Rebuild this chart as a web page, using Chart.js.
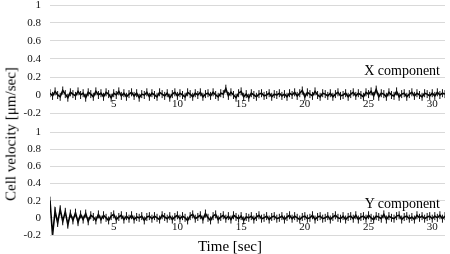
<!DOCTYPE html>
<html>
<head>
<meta charset="utf-8">
<script src="https://cdn.jsdelivr.net/npm/chart.js@4/dist/chart.umd.min.js"></script>
<style>
  html,body{margin:0;padding:0;background:#fff;width:450px;height:254px;overflow:hidden;position:relative;font-family:"Liberation Serif","Times New Roman",serif;color:#000;}
  .cv{position:absolute;left:0;width:450px;}
  #wrapTop{top:0;height:122px;}
  #wrapBot{top:122px;height:132px;}
  .lbl{position:absolute;font-size:14px;white-space:nowrap;line-height:1;}
  #ytitle{left:11px;top:134px;transform:translate(-50%,-50%) rotate(-90deg);font-size:15px;}
  #xtitle{left:230px;top:246px;transform:translate(-50%,-50%);font-size:15px;}
  #xcomp{right:10px;top:64px;}
  #ycomp{right:10px;top:197px;}
</style>
</head>
<body>
<div class="cv" id="wrapTop"><canvas id="cTop"></canvas></div>
<div class="cv" id="wrapBot"><canvas id="cBot"></canvas></div>
<div class="lbl" id="ytitle">Cell velocity [μm/sec]</div>
<div class="lbl" id="xtitle">Time [sec]</div>
<div class="lbl" id="xcomp">X component</div>
<div class="lbl" id="ycomp">Y component</div>
<script>
// Sampling interval of the recording (sec)
const TIME_STEP = 0.2;
const X_TICKS = [5, 10, 15, 20, 25, 30];
const Y_TICKS = [-0.2, 0, 0.2, 0.4, 0.6, 0.8, 1];
const PANEL_LABELS = ["X component", "Y component"];

// X component of cell velocity (µm/sec), t = 0 ... 31 sec
const xComponent = [
  0.02,-0.01,0.04,0.00,-0.02,0.05,0.01,-0.03,0.03,0.01,
  -0.01,0.04,0.00,0.02,-0.03,0.03,0.01,-0.02,0.04,0.00,
  0.02,-0.02,0.03,0.01,-0.03,0.02,0.00,0.04,-0.01,0.02,
  -0.02,0.01,0.03,-0.01,0.02,-0.03,0.01,0.00,0.03,-0.02,
  0.02,0.00,-0.02,0.03,0.01,-0.01,0.02,-0.03,0.01,0.03,
  -0.01,0.02,0.00,-0.02,0.03,0.01,-0.02,0.02,0.00,0.03,
  -0.02,0.01,0.02,-0.01,0.03,0.00,-0.02,0.02,0.01,0.07,
  -0.01,0.03,0.00,-0.03,0.02,0.04,-0.02,0.01,-0.03,0.02,
  0.00,-0.02,0.01,0.02,-0.01,0.00,0.02,-0.02,0.01,0.00,
  0.02,-0.01,0.01,-0.02,0.02,0.00,0.03,-0.01,0.02,0.05,
  -0.02,0.03,0.01,-0.01,0.04,0.00,-0.02,0.02,0.01,-0.01,
  0.02,-0.02,0.01,0.03,-0.01,0.00,0.02,-0.02,0.01,0.03,
  -0.01,0.02,0.00,-0.02,0.03,0.01,0.04,-0.01,0.06,-0.02,
  0.02,0.01,-0.02,0.03,0.00,-0.01,0.04,-0.02,0.01,0.02,
  -0.02,0.01,0.03,-0.01,0.02,0.00,-0.02,0.02,0.01,-0.01,
  0.02,-0.01,0.03,0.00,0.02,0.01
];

// Y component of cell velocity (µm/sec), t = 0 ... 31 sec
const yComponent = [
  0.20,-0.20,0.08,-0.06,0.10,-0.04,0.07,-0.08,0.05,-0.03,
  0.06,-0.05,0.04,-0.02,0.05,-0.04,0.03,0.01,-0.03,0.04,
  -0.02,0.03,0.00,-0.03,0.02,0.04,-0.02,0.01,0.03,-0.02,
  0.02,-0.01,0.03,-0.02,0.01,0.00,0.02,-0.03,0.01,0.02,
  -0.01,0.02,0.00,-0.02,0.03,0.01,-0.01,0.02,-0.02,0.01,
  0.03,-0.01,0.02,0.00,-0.03,0.02,0.04,-0.01,0.01,0.03,
  -0.02,0.05,0.00,-0.03,0.02,0.04,-0.02,0.01,0.03,-0.01,
  0.02,-0.02,0.03,0.01,-0.01,0.02,-0.03,0.01,0.00,0.02,
  -0.02,0.01,0.03,-0.01,0.00,0.02,-0.02,0.01,0.02,-0.01,
  0.00,0.02,-0.02,0.01,0.03,-0.01,0.02,0.00,-0.02,0.01,
  0.02,-0.01,0.00,0.03,-0.02,0.01,0.02,-0.01,0.00,0.02,
  -0.02,0.01,0.03,0.00,-0.01,0.02,-0.02,0.01,0.02,-0.01,
  0.03,-0.02,0.01,0.02,-0.01,0.03,0.00,-0.02,0.02,0.01,
  -0.01,0.04,-0.02,0.02,0.00,-0.01,0.02,0.03,-0.02,0.01,
  0.02,-0.01,0.01,-0.02,0.03,0.00,0.02,-0.01,0.01,0.02,
  -0.01,0.02,0.00,0.03,-0.01,0.02
];

function toPoints(arr){ return arr.map((v,i)=>({x: Math.round(i*TIME_STEP*10)/10, y: v})); }

const FONT = {family: "'Liberation Serif','Times New Roman',serif", size: 11};

function makeChart(id, series, padTop, padBottom){
  return new Chart(document.getElementById(id), {
    type: 'line',
    data: { datasets: [{
      data: toPoints(series),
      borderColor: '#000',
      borderWidth: 1.6,
      backgroundColor: '#000',
      pointStyle: 'line',
      pointRotation: 90,
      pointRadius: 4,
      pointBorderWidth: 1,
      pointBorderColor: '#111',
      tension: 0
    }]},
    options: {
      responsive: true,
      maintainAspectRatio: false,
      animation: false,
      events: [],
      layout: { padding: {top: padTop, bottom: padBottom, left: 0, right: 1} },
      plugins: { legend: {display:false}, tooltip: {enabled:false} },
      scales: {
        x: {
          type: 'linear', min: 0, max: 31,
          position: {y: 0},
          grid: {display: false, drawTicks: false},
          border: {display: false},
          afterBuildTicks: s => { s.ticks = X_TICKS.map(v=>({value:v})); },
          ticks: {font: FONT, color: '#111', padding: 3, maxRotation: 0, autoSkip: false}
        },
        y: {
          type: 'linear', min: -0.2, max: 1,
          grid: {color: '#d9d9d9', lineWidth: 1, drawTicks: false},
          border: {display: false},
          afterBuildTicks: s => { s.ticks = Y_TICKS.map(v=>({value:v})); },
          afterFit: s => { s.width = 50; s.paddingTop = 0; s.paddingBottom = 0; },
          ticks: {font: FONT, color: '#111', padding: 9,
            callback: v => String(Math.round(v*10)/10)}
        }
      }
    }
  });
}

makeChart('cTop', xComponent, 4, 9);
makeChart('cBot', yComponent, 10, 19);
</script>
</body>
</html>
